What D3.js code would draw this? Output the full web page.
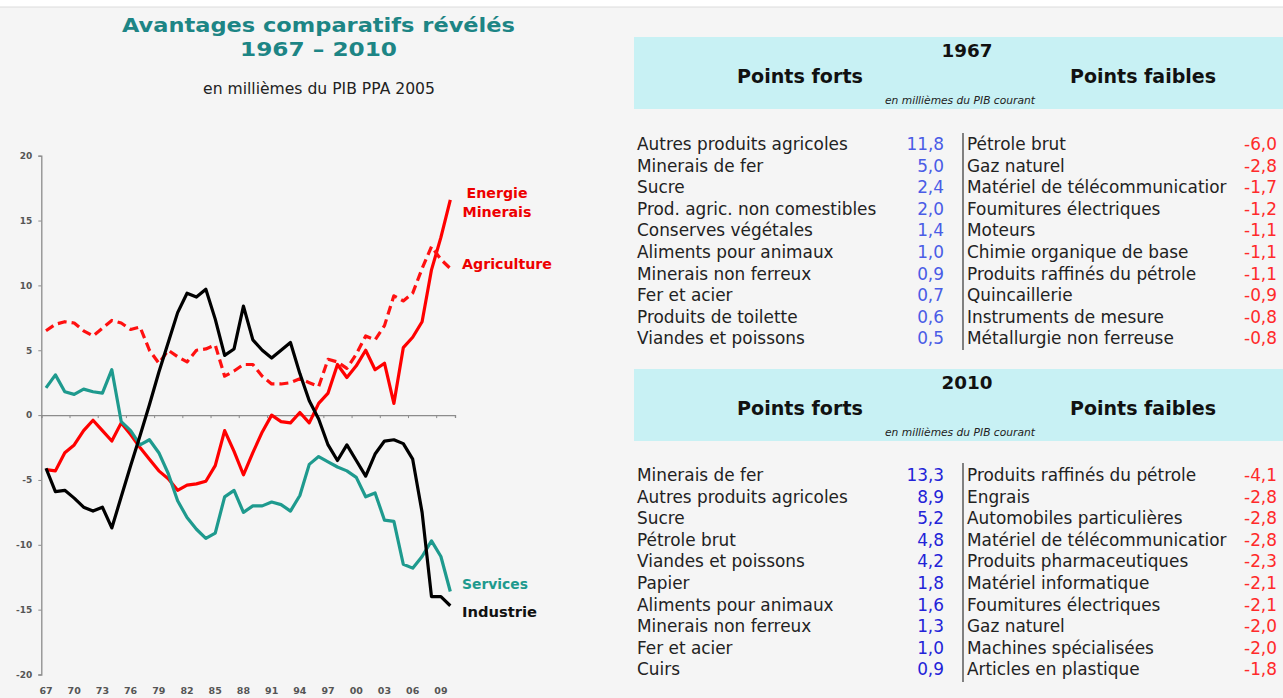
<!DOCTYPE html>
<html><head><meta charset="utf-8">
<script src="https://cdn.jsdelivr.net/npm/d3@7"></script>
<style>
html,body{margin:0;padding:0;background:#fff;}
svg{display:block;font-family:"DejaVu Sans",Verdana,sans-serif;}
</style></head>
<body>
<svg id="c" width="1283" height="698"></svg>
<script>
// ---------- DATA ----------
const years = d3.range(1967, 2011);
const xTickLabels = ["67","70","73","76","79","82","85","88","91","94","97","00","03","06","09"];
const yTicks = [-20,-15,-10,-5,0,5,10,15,20];

const energieMinerais = [-4.2,-4.3,-2.9,-2.3,-1.2,-0.4,-1.2,-2.0,-0.6,-1.5,-2.5,-3.4,-4.3,-4.9,-5.8,-5.4,-5.3,-5.1,-3.9,-1.2,-2.8,-4.6,-2.9,-1.3,0.0,-0.5,-0.6,0.2,-0.6,0.9,1.7,3.9,2.9,3.8,5.0,3.5,4.0,0.9,5.2,6.0,7.2,11.2,13.7,16.6];
const agriculture     = [6.5,7.0,7.2,7.1,6.5,6.1,6.7,7.3,7.1,6.6,6.8,5.0,4.0,5.0,4.5,4.1,5.0,5.1,5.4,3.0,3.4,3.9,3.9,3.0,2.4,2.4,2.5,2.8,2.5,2.2,4.3,4.1,3.6,4.7,6.1,5.8,6.9,9.2,8.8,9.4,11.3,13.0,12.0,11.3];
const services        = [2.1,3.1,1.8,1.6,2.0,1.8,1.7,3.5,-0.5,-1.2,-2.3,-1.9,-2.9,-4.5,-6.6,-7.9,-8.8,-9.5,-9.1,-6.3,-5.8,-7.5,-7.0,-7.0,-6.7,-6.9,-7.4,-6.2,-3.8,-3.2,-3.6,-4.0,-4.3,-4.8,-6.3,-6.0,-8.1,-8.2,-11.5,-11.8,-10.9,-9.7,-10.9,-13.6];
const industrie       = [-4.1,-5.9,-5.8,-6.4,-7.1,-7.4,-7.1,-8.7,-6.3,-3.9,-1.6,0.8,3.3,5.6,7.9,9.4,9.1,9.7,7.4,4.6,5.1,8.4,5.8,5.0,4.4,5.0,5.6,3.2,1.1,-0.3,-2.3,-3.5,-2.3,-3.5,-4.7,-3.0,-2.0,-1.9,-2.2,-3.4,-7.5,-14.0,-14.0,-14.7];

const forts1967Names = ["Autres produits agricoles","Minerais de fer","Sucre","Prod. agric. non comestibles","Conserves végétales","Aliments pour animaux","Minerais non ferreux","Fer et acier","Produits de toilette","Viandes et poissons"];
const forts1967Values = [11.8,5.0,2.4,2.0,1.4,1.0,0.9,0.7,0.6,0.5];
const faibles1967Names = ["Pétrole brut","Gaz naturel","Matériel de télécommunicatior","Foumitures électriques","Moteurs","Chimie organique de base","Produits raffinés du pétrole","Quincaillerie","Instruments de mesure","Métallurgie non ferreuse"];
const faibles1967Values = [-6.0,-2.8,-1.7,-1.2,-1.1,-1.1,-1.1,-0.9,-0.8,-0.8];
const forts2010Names = ["Minerais de fer","Autres produits agricoles","Sucre","Pétrole brut","Viandes et poissons","Papier","Aliments pour animaux","Minerais non ferreux","Fer et acier","Cuirs"];
const forts2010Values = [13.3,8.9,5.2,4.8,4.2,1.8,1.6,1.3,1.0,0.9];
const faibles2010Names = ["Produits raffinés du pétrole","Engrais","Automobiles particulières","Matériel de télécommunicatior","Produits pharmaceutiques","Matériel informatique","Foumitures électriques","Gaz naturel","Machines spécialisées","Articles en plastique"];
const faibles2010Values = [-4.1,-2.8,-2.8,-2.8,-2.3,-2.1,-2.1,-2.0,-2.0,-1.8];

// ---------- DRAW ----------
const svg = d3.select("#c");
svg.append("rect").attr("x",0).attr("y",7).attr("width",1283).attr("height",691).attr("fill","#f5f5f5");
svg.append("line").attr("x1",0).attr("x2",1283).attr("y1",7).attr("y2",7).attr("stroke","#dcdcdc");

function fit(sel, w){
  const len = sel.node().getComputedTextLength();
  const fs = parseFloat(sel.attr("font-size"));
  sel.attr("font-size", (fs*w/len).toFixed(2));
}

// Titles
const teal = "#1d8585";
svg.append("text").attr("x",318.5).attr("y",31.5).attr("text-anchor","middle")
  .attr("font-size",20).attr("font-weight","bold").attr("fill",teal)
  .attr("textLength",393).attr("lengthAdjust","spacingAndGlyphs").text("Avantages comparatifs révélés");
svg.append("text").attr("x",318.5).attr("y",55.5).attr("text-anchor","middle")
  .attr("font-size",20).attr("font-weight","bold").attr("fill",teal)
  .attr("textLength",157).attr("lengthAdjust","spacingAndGlyphs").text("1967 – 2010");
const t3 = svg.append("text").attr("x",319).attr("y",94).attr("text-anchor","middle")
  .attr("font-size",11).attr("fill","#222").text("en millièmes du PIB PPA 2005");
fit(t3, 232);

// Chart
const x = d3.scaleBand().domain(years).range([41.3, 455]);
const y = d3.scaleLinear().domain([-20,20]).range([674.5,155.7]);
const cx = d => x(d) + x.bandwidth()/2;

const g = svg.append("g");
// y axis
const yAxis = d3.axisLeft(y).tickValues(yTicks).tickSize(3).tickPadding(6).tickFormat(d => String(d));
const ya = g.append("g").attr("transform","translate(41.3,0)").call(yAxis);
ya.select(".domain").attr("stroke","#8c8c8c").attr("stroke-width",1.3);
ya.selectAll(".tick line").attr("stroke","#8c8c8c");
ya.selectAll("text").attr("font-size",9).attr("font-weight","bold").attr("fill","#555")
  .attr("font-family","\"DejaVu Sans\",sans-serif");

// zero line with ticks at category boundaries every 3 years
const za = g.append("g").attr("transform",`translate(0,${y(0)})`)
  .call(d3.axisBottom(x).tickValues(years.filter((d,i)=>i%3===0)).tickSize(3).tickFormat(""));
za.select(".domain").attr("stroke","#8c8c8c").attr("stroke-width",1.3);
za.selectAll(".tick").attr("transform", d => `translate(${x(d)+0.5},0)`);
za.selectAll(".tick line").attr("stroke","#8c8c8c");

// x labels at bottom
const xLabYears = years.filter((d,i)=>i%3===0);
g.selectAll(".xl").data(xLabYears).join("text").attr("class","xl")
  .attr("x", d=>cx(d)).attr("y",694).attr("text-anchor","middle")
  .attr("font-size",9.5).attr("font-weight","bold").attr("fill","#555")
  .text((d,i)=>xTickLabels[i]);

const line = d3.line().x((d,i)=>cx(years[i])).y(d=>y(d));
const series = [
  {v:energieMinerais, c:"#ff0000", dash:null},
  {v:agriculture, c:"#ff1010", dash:"9,5"},
  {v:services, c:"#1e9a8e", dash:null},
  {v:industrie, c:"#000000", dash:null}
];
g.selectAll(".ln").data(series).join("path").attr("class","ln")
  .attr("d", d=>line(d.v)).attr("fill","none").attr("stroke", d=>d.c)
  .attr("stroke-width",3.2).attr("stroke-linejoin","round")
  .attr("stroke-dasharray", d=>d.dash);

// series labels
const labs = [
  {t:"Energie", x:497, y:198, c:"#ee0000", a:"middle", w:61},
  {t:"Minerais", x:497, y:217, c:"#ee0000", a:"middle", w:69},
  {t:"Agriculture", x:462, y:269, c:"#ee0000", a:"start", w:90},
  {t:"Services", x:462, y:589, c:"#1e9a8e", a:"start", w:66},
  {t:"Industrie", x:462, y:617, c:"#111", a:"start", w:75}
];
g.selectAll(".sl").data(labs).join("text").attr("class","sl")
  .attr("x",d=>d.x).attr("y",d=>d.y).attr("text-anchor",d=>d.a)
  .attr("font-size",13.5).attr("font-weight","bold").attr("fill",d=>d.c)
  .attr("textLength",d=>d.w).attr("lengthAdjust","spacingAndGlyphs").text(d=>d.t);

// Tables
const loc = d3.formatLocale({decimal:",", thousands:" ", grouping:[3], currency:["",""], minus:"-"});
const fmt = loc.format(".1f");

const sample = svg.append("text").attr("font-size",14).text("Autres produits agricoles");
const rowFs = 14*211/sample.node().getComputedTextLength();
sample.remove();

function block(top, year, fortsN, fortsV, faibN, faibV, firstBase, sepTop, sepBot, blue){
  const b = svg.append("g");
  b.append("rect").attr("x",634).attr("y",top).attr("width",649).attr("height",72).attr("fill","#c8f1f4");
  const yr = b.append("text").attr("x",967).attr("y",top+20).attr("text-anchor","middle")
    .attr("font-size",16).attr("font-weight","bold").attr("fill","#111").text(year);
  fit(yr, 51);
  const pf = b.append("text").attr("x",800).attr("y",top+46).attr("text-anchor","middle")
    .attr("font-size",16).attr("font-weight","bold").attr("fill","#111").text("Points forts");
  fit(pf, 126);
  const pw = b.append("text").attr("x",1143).attr("y",top+46).attr("text-anchor","middle")
    .attr("font-size",16).attr("font-weight","bold").attr("fill","#111").text("Points faibles");
  fit(pw, 146);
  const nt = b.append("text").attr("x",960).attr("y",top+67).attr("text-anchor","middle")
    .attr("font-size",7).attr("font-style","italic").attr("fill","#222").text("en millièmes du PIB courant");
  fit(nt, 150);
  const step = 21.6;
  b.selectAll(".fn").data(fortsN).join("text").attr("x",637).attr("y",(d,i)=>firstBase+i*step)
    .attr("font-size",rowFs).attr("fill","#222").text(d=>d);
  b.selectAll(".fv").data(fortsV).join("text").attr("x",944).attr("y",(d,i)=>firstBase+i*step)
    .attr("text-anchor","end").attr("font-size",rowFs).attr("fill",blue).text(d=>fmt(d));
  b.selectAll(".wn").data(faibN).join("text").attr("x",967).attr("y",(d,i)=>firstBase+i*step)
    .attr("font-size",rowFs).attr("fill","#222").text(d=>d);
  b.selectAll(".wv").data(faibV).join("text").attr("x",1277).attr("y",(d,i)=>firstBase+i*step)
    .attr("text-anchor","end").attr("font-size",rowFs).attr("fill","#ff2a2a").text(d=>fmt(d));
  b.append("line").attr("x1",963).attr("x2",963).attr("y1",sepTop).attr("y2",sepBot)
    .attr("stroke","#333").attr("stroke-width",1.2);
}
block(37, "1967", forts1967Names, forts1967Values, faibles1967Names, faibles1967Values, 150, 133, 350, "#4a5ce6");
block(369, "2010", forts2010Names, forts2010Values, faibles2010Names, faibles2010Values, 481, 463, 682, "#2323d8");
</script>
</body></html>
